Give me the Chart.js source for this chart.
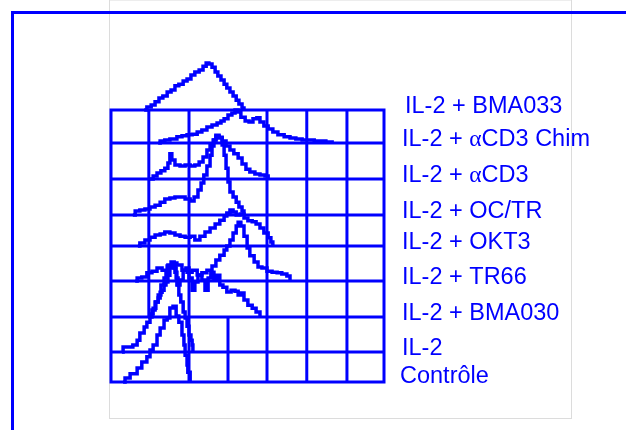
<!DOCTYPE html>
<html>
<head>
<meta charset="utf-8">
<script src="https://cdn.jsdelivr.net/npm/chart.js@4.4.1/dist/chart.umd.min.js"></script>
<style>
  html, body { margin: 0; padding: 0; background: #fff; }
  #wrap { width: 626px; height: 430px; position: relative; }
</style>
</head>
<body>
<div id="wrap"><canvas id="histo"></canvas></div>
<script>
// Sample names, bottom to top
var labels = ['Contrôle', 'IL-2', 'IL-2 + BMA030', 'IL-2 + TR66', 'IL-2 + OKT3',
              'IL-2 + OC/TR', 'IL-2 + αCD3', 'IL-2 + αCD3 Chim', 'IL-2 + BMA033'];

// Offset (in counts) of each histogram's baseline = the horizontal grid lines
var baselines = [0, 88, 191, 297, 400, 491, 597, 703, 800];

// Vertical grid lines (channels); the two lowest rows and the upper rows differ
var lowerColumns = [0, 200, 300, 400, 502, 605, 700];
var upperColumns = [0, 97, 200, 400, 502, 605, 700];

// Histograms: [channel, count above own baseline]
var controle = [[31,0],[36,12],[49,24],[67,41],[79,59],[92,74],[100,94],[108,109],[118,138],[126,159],
  [136,182],[144,188],[151,218],[159,223],[167,194],[174,176],[182,138],[187,109],[190,79],[195,50],[197,29],[203,0]];
var il2 = [[28,0],[31,15],[44,15],[56,21],[67,35],[74,56],[85,74],[92,88],[100,112],[108,129],[115,147],
  [121,159],[126,176],[131,182],[136,197],[141,206],[146,226],[151,247],[159,256],[164,235],[169,197],
  [174,168],[179,147],[185,118],[190,100],[195,76],[200,50],[205,35],[208,21],[210,0]];
var bma030 = [[95,0],[105,21],[113,44],[121,65],[128,94],[136,115],[141,132],[146,153],[154,162],[162,144],
  [167,115],[172,94],[177,109],[185,138],[192,144],[200,115],[208,79],[215,103],[223,123],[233,109],
  [241,79],[249,115],[256,132],[264,109],[272,123],[279,94],[287,88],[297,74],[308,79],[318,76],
  [326,65],[333,71],[341,50],[351,35],[362,26],[372,15],[382,0]];
var tr66 = [[62,0],[67,9],[79,12],[92,24],[105,29],[118,38],[131,32],[144,44],[156,53],[169,47],[182,32],
  [195,26],[208,32],[221,18],[233,24],[246,32],[259,44],[269,62],[279,76],[290,91],[297,103],[305,121],
  [313,141],[321,162],[326,173],[333,162],[341,132],[349,97],[356,74],[367,56],[377,41],[387,38],
  [400,29],[413,26],[426,24],[438,21],[451,15],[459,0]];
var okt3 = [[69,0],[74,9],[87,18],[100,26],[113,32],[126,35],[138,41],[151,38],[164,32],[177,29],[190,26],
  [203,29],[215,18],[228,29],[241,41],[254,53],[267,65],[279,76],[290,88],[297,97],[305,106],[313,100],
  [321,91],[331,94],[341,82],[351,74],[362,71],[372,65],[382,53],[392,38],[403,24],[410,12],[415,0]];
var octr = [[56,0],[62,12],[74,15],[87,18],[100,24],[113,29],[126,38],[138,47],[151,50],[164,53],[177,53],
  [190,47],[203,41],[213,53],[223,74],[231,94],[238,118],[246,144],[254,176],[259,203],[264,221],[269,235],
  [277,229],[285,206],[290,176],[295,138],[300,97],[305,68],[313,53],[321,38],[328,24],[336,12],[341,0]];
var acd3 = [[100,0],[108,9],[118,18],[128,24],[138,32],[146,47],[151,74],[156,56],[164,41],[177,38],[190,41],
  [203,38],[215,41],[226,50],[236,65],[246,85],[254,100],[262,115],[269,126],[277,121],[285,112],[295,97],
  [305,85],[315,74],[326,62],[336,44],[346,29],[356,21],[369,15],[382,12],[395,9],[403,0]];
var acd3Chim = [[121,0],[126,6],[138,9],[151,12],[169,18],[182,21],[195,24],[208,26],[221,32],[233,38],
  [246,47],[259,53],[272,59],[282,65],[290,71],[300,82],[310,88],[318,97],[326,91],[333,76],[344,65],
  [354,62],[364,71],[374,74],[382,62],[392,50],[403,41],[415,32],[428,24],[444,18],[459,15],[474,12],
  [490,9],[505,9],[521,6],[536,6],[551,3],[567,0]];
var bma033 = [[85,0],[92,9],[103,15],[113,24],[123,35],[133,41],[144,53],[154,59],[164,71],[174,76],
  [185,85],[195,91],[205,103],[215,112],[226,118],[236,129],[244,138],[251,135],[259,126],[267,112],
  [274,100],[282,88],[290,76],[297,65],[305,53],[313,41],[321,29],[328,18],[336,6],[341,0]];

var series = [controle, il2, bma030, tr66, okt3, octr, acd3, acd3Chim, bma033];

var blue = '#0000ff';

var datasets = series.map(function(pts, i) {
  return {
    label: labels[i],
    data: pts.map(function(p) { return { x: p[0], y: baselines[i] + p[1] }; }),
    borderColor: blue,
    borderWidth: 3.5,
    pointRadius: 0,
    showLine: true,
    stepped: true,
    fill: false,
    clip: false
  };
});

// Frame, grey panel and stacked grid
var gridPlugin = {
  id: 'stackGrid',
  beforeDraw: function(chart) {
    var ctx = chart.ctx;
    ctx.save();
    ctx.fillStyle = '#fff';
    ctx.fillRect(0, 0, chart.width, chart.height);
    ctx.strokeStyle = '#dcdcdc';
    ctx.lineWidth = 1;
    ctx.strokeRect(109.5, 0, 462, 418.5);
    ctx.restore();
  },
  beforeDatasetsDraw: function(chart) {
    var ctx = chart.ctx, x = chart.scales.x, y = chart.scales.y;
    var split = baselines[2];
    ctx.save();
    ctx.strokeStyle = blue;
    ctx.lineWidth = 3;
    ctx.lineCap = 'square';
    ctx.beginPath();
    baselines.forEach(function(b) {
      ctx.moveTo(x.getPixelForValue(0), y.getPixelForValue(b));
      ctx.lineTo(x.getPixelForValue(700), y.getPixelForValue(b));
    });
    lowerColumns.forEach(function(c) {
      ctx.moveTo(x.getPixelForValue(c), y.getPixelForValue(0));
      ctx.lineTo(x.getPixelForValue(c), y.getPixelForValue(split));
    });
    upperColumns.forEach(function(c) {
      ctx.moveTo(x.getPixelForValue(c), y.getPixelForValue(split));
      ctx.lineTo(x.getPixelForValue(c), y.getPixelForValue(800));
    });
    ctx.stroke();
    ctx.restore();
  },
  afterDraw: function(chart) {
    var ctx = chart.ctx, y = chart.scales.y;
    ctx.save();
    // blue page frame
    ctx.fillStyle = blue;
    ctx.fillRect(11, 11, chart.width - 11, 3);
    ctx.fillRect(11, 11, 3, chart.height - 11);
    // sample names
    ctx.textBaseline = 'alphabetic';
    labels.forEach(function(name, i) {
      var px = i === labels.length - 1 ? 405 : (i === 0 ? 400 : 402);
      var py = y.getPixelForValue(baselines[i]) + (i === 0 ? 1 : 3);
      name.split(/(α)/).forEach(function(part) {
        if (!part) return;
        ctx.font = part === 'α' ? '23.5px "Liberation Serif"' : '23.5px "Liberation Sans"';
        ctx.fillText(part, px, py);
        px += ctx.measureText(part).width;
      });
    });
    ctx.restore();
  }
};

new Chart(document.getElementById('histo').getContext('2d'), {
  type: 'scatter',
  data: { datasets: datasets },
  options: {
    responsive: true,
    maintainAspectRatio: false,
    animation: false,
    layout: { padding: { left: 111, right: 242, top: 110, bottom: 48 } },
    plugins: { legend: { display: false }, tooltip: { enabled: false } },
    scales: {
      x: { type: 'linear', min: 0, max: 700, display: false },
      y: { type: 'linear', min: 0, max: 800, display: false }
    }
  },
  plugins: [gridPlugin]
});
</script>
</body>
</html>
